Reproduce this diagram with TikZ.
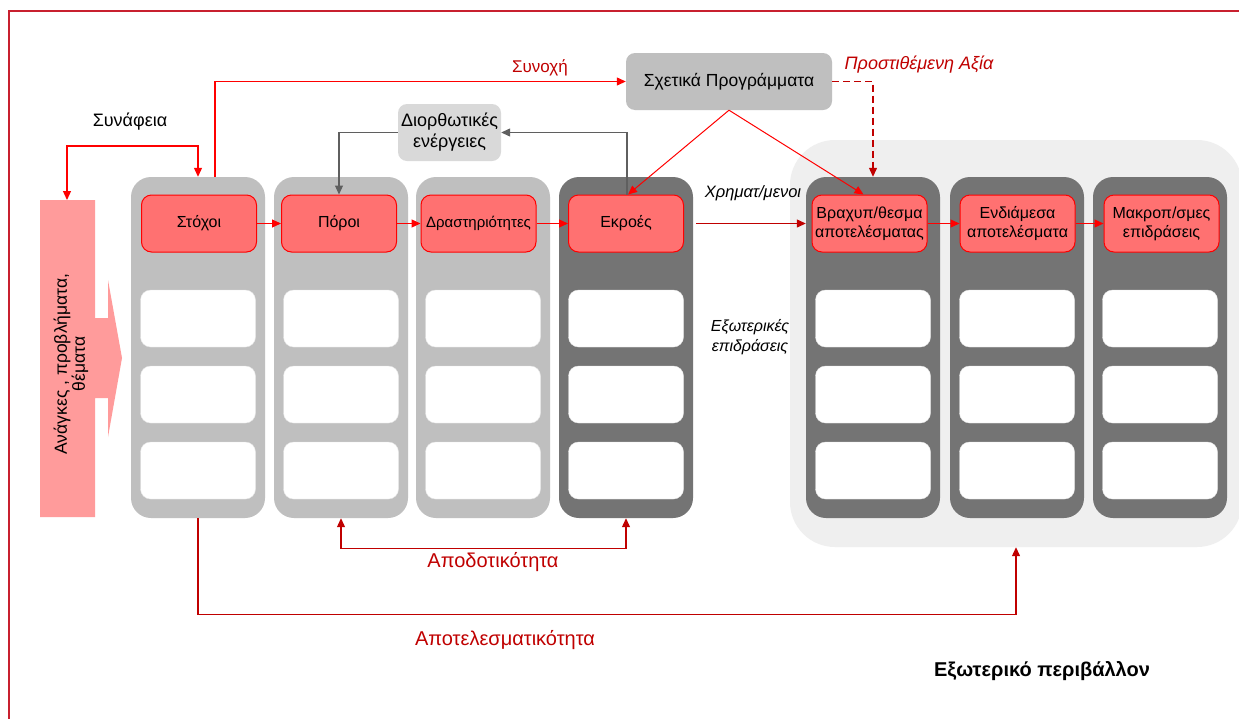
\documentclass[tikz,border=0pt]{standalone}
\usepackage{fontspec}
\setmainfont{Liberation Sans}
\usetikzlibrary{arrows.meta}
\definecolor{framered}{HTML}{C8202F}
\definecolor{darkred}{HTML}{C00000}
\definecolor{boxred}{HTML}{FF7171}
\definecolor{needpink}{HTML}{FF9B9B}
\definecolor{lgrey}{HTML}{BFBFBF}
\definecolor{dgrey}{HTML}{747474}
\definecolor{envgrey}{HTML}{EFEFEF}
\definecolor{lightbox}{HTML}{D9D9D9}
\definecolor{linegrey}{HTML}{5F5F5F}
\tikzset{
    column/.style={rounded corners=20pt, minimum width=134pt, minimum height=341pt, inner sep=0pt},
    whitebox/.style={fill=white, draw=white!90!black, rounded corners=10pt, minimum width=115pt, minimum height=57pt, inner sep=0pt},
    redbox/.style={fill=boxred, draw=red, line width=1pt, rounded corners=10pt, minimum width=115pt, minimum height=57pt, inner sep=0pt, align=center, font=\fontsize{16}{19}\selectfont},
    greybox/.style={rounded corners=9pt, minimum height=57pt, inner sep=0pt, align=center},
    redline/.style={red, line width=1.2pt},
    arr/.style={-{Triangle[length=9pt,width=8pt]}},
    twoarr/.style={{Triangle[length=9pt,width=8pt]}-{Triangle[length=9pt,width=8pt]}},
    label/.style={inner sep=0pt}
}
\begin{document}
\begin{tikzpicture}[x=1pt, y=-1pt]
    \useasboundingbox (0,0) rectangle (1239,718);
    \clip (0,0) rectangle (1239,718);
    \fill[white] (0,0) rectangle (1239,718);
    \draw[framered, line width=2pt] (9,11) rectangle (1260,740);

    % exoteriko perivallon
    \node (env) [fill=envgrey, rounded corners=45pt, minimum width=452pt, minimum height=407pt] at (1016,343.5) {};

    % anagkes
    \fill[needpink] (40,200) -- (95,200) -- (95,318) -- (108,318) -- (108,280) -- (122,358) -- (108,437)
        -- (108,398) -- (95,398) -- (95,517) -- (40,517) -- cycle;
    \coordinate (needtop) at (67,200);
    \node (needs) [label, rotate=90, align=center, font=\fontsize{17.5}{18}\selectfont] at (71,364) {Ανάγκες , προβλήματα,\\θέματα};

    % columns
    \foreach \i/\x/\c in {1/198/lgrey, 2/341/lgrey, 3/483/lgrey, 4/626/dgrey, 5/873/dgrey, 6/1017/dgrey, 7/1160/dgrey}
    {
        \node (col\i) [column, fill=\c] at (\x,347.5) {};
        \foreach \y in {318.5,394.5,470.5}
        {
            \node[whitebox] at (\x,\y) {};
        }
    }

    \node (stoxoi) [redbox] at (199,223.5) {Στόχοι};
    \node (poroi) [redbox] at (339,223.5) {Πόροι};
    \node (drast) [redbox, font=\fontsize{15}{17}\selectfont] at (478.5,223.5) {Δραστηριότητες};
    \node (ekroes) [redbox] at (626,223.5) {Εκροές};
    \node (brax) [redbox] at (869.5,223.5) {Βραχυπ/θεσμα\\αποτελέσματας};
    \node (endiam) [redbox] at (1017.5,223.5) {Ενδιάμεσα\\αποτελέσματα};
    \node (makrop) [redbox] at (1161.5,223.5) {Μακροπ/σμες\\επιδράσεις};

    \node (prog) [greybox, fill=lgrey, minimum width=206pt, font=\fontsize{17.5}{20}\selectfont] at (729,81.5) {Σχετικά Προγράμματα};
    \node (dior) [greybox, fill=lightbox, minimum width=103pt, font=\fontsize{18}{21}\selectfont] at (449.5,132.5) {Διορθωτικές\\ενέργειες};

    % connectors
    \draw[redline, arr] (stoxoi) -- (poroi);
    \draw[redline, arr] (poroi) -- (drast);
    \draw[redline, arr] (drast) -- (ekroes);
    \draw[redline, arr] (brax) -- (endiam);
    \draw[redline, arr] (endiam) -- (makrop);

    \draw[redline, twoarr] (needtop) -- ++(0,-54) -| (col1.north);
    \draw[redline, arr] ([xshift=17pt]col1.north) |- (prog.west);
    \draw[linegrey, line width=1.2pt, arr] ([xshift=1pt]ekroes.north) |- (dior.east);
    \draw[linegrey, line width=1.2pt, arr] (dior.west) -| (poroi.north);
    \draw[red, line width=1pt, arr] (prog.south) -- ([xshift=2pt]ekroes.north);
    \draw[red, line width=1pt, arr] (prog.south) -- ([xshift=-6pt]brax.north);
    \draw[darkred, line width=1.2pt, dash pattern=on 7pt off 4pt, arr] (prog.east) -| (col5.north);
    \draw[darkred, line width=1.2pt, arr] ([xshift=12pt]ekroes.east) -- (col5.west |- ekroes.east);
    \draw[darkred, line width=1.2pt, twoarr] (col2.south) -- ++(0,30) -| (col4.south);
    \draw[darkred, line width=1.2pt, arr] (col1.south) -- ++(0,96) -| (env.south);

    % labels
    \node (synafeia) [label, font=\fontsize{18}{20}\selectfont] at (130,122) {Συνάφεια};
    \node (synoxi) [label, text=darkred, font=\fontsize{17}{20}\selectfont] at (540,68) {Συνοχή};
    \node (axia) [label, text=darkred, font=\fontsize{18}{20}\selectfont\itshape] at (919,65) {Προστιθέμενη Αξία};
    \node (xrim) [label, font=\fontsize{16.5}{18}\selectfont\itshape] at (753,193) {Χρηματ/μενοι};
    \node (epidr) [label, align=center, font=\fontsize{16}{20}\selectfont\itshape] at (750,337) {Εξωτερικές\\επιδράσεις};
    \node (apodot) [label, text=darkred, font=\fontsize{20}{22}\selectfont] at (493,562) {Αποδοτικότητα};
    \node (apotel) [label, text=darkred, font=\fontsize{20}{22}\selectfont] at (505,640) {Αποτελεσματικότητα};
    \node (perib) [label, font=\fontsize{20}{22}\selectfont\bfseries] at (1042,671) {Εξωτερικό περιβάλλον};
\end{tikzpicture}
\end{document}
